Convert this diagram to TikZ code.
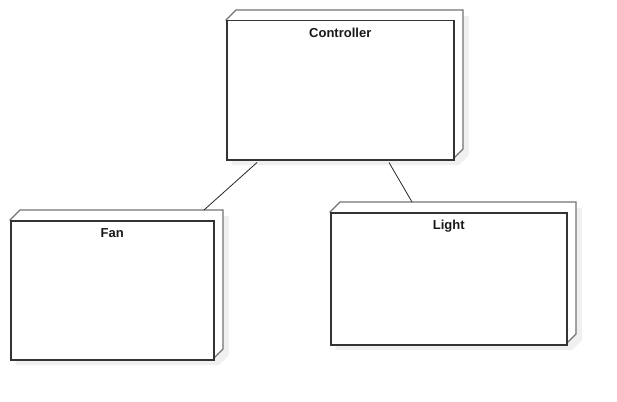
\documentclass[tikz,border=0pt]{standalone}
\usepackage{fontspec}
\setmainfont{Liberation Sans}

\tikzset{
  nodebox/.style={draw=black!80, line width=1.5pt, fill=white, anchor=north west, inner sep=0pt},
  depth/.style={draw=black!55, line width=1.1pt, fill=white},
  shade/.style={fill=black!6},
  boxtitle/.style={font=\bfseries\fontsize{13}{15}\selectfont, text=black!90, anchor=north, inner sep=0pt, yshift=-8pt},
  link/.style={draw=black!85, line width=0.8pt}
}

% name, x, y, width, height, title (pixel coordinates of the front face)
\newcommand{\umlnode}[6]{%
  \fill[shade] (#2+6,#3+6) -- ++(10,-10) -- ++(#4,0) -- ++(0,#5) -- ++(-10,10) -- ++(-#4,0) -- cycle;
  \filldraw[depth] (#2,#3) -- ++(10,-10) -- ++(#4,0) -- ++(0,#5) -- ++(-10,10) -- cycle;
  \node[nodebox, minimum width=#4pt, minimum height=#5pt] (#1) at (#2,#3) {};
  \node[boxtitle] (#1-title) at (#1.north) {#6};
}

\begin{document}
\begin{tikzpicture}[x=1pt,y=-1pt]
 \useasboundingbox (0,0) rectangle (617,401);

 \umlnode{ctrl}{226}{20}{227}{139}{Controller}
 \umlnode{fan}{10}{220}{203}{139}{Fan}
 \umlnode{light}{330}{212}{236}{132}{Light}

 \draw[link] ([xshift=31pt,yshift=-2pt]ctrl.south west) -- ([xshift=194pt,yshift=10pt]fan.north west);
 \draw[link] ([xshift=163pt,yshift=-2pt]ctrl.south west) -- ([xshift=82pt,yshift=10pt]light.north west);
\end{tikzpicture}
\end{document}
